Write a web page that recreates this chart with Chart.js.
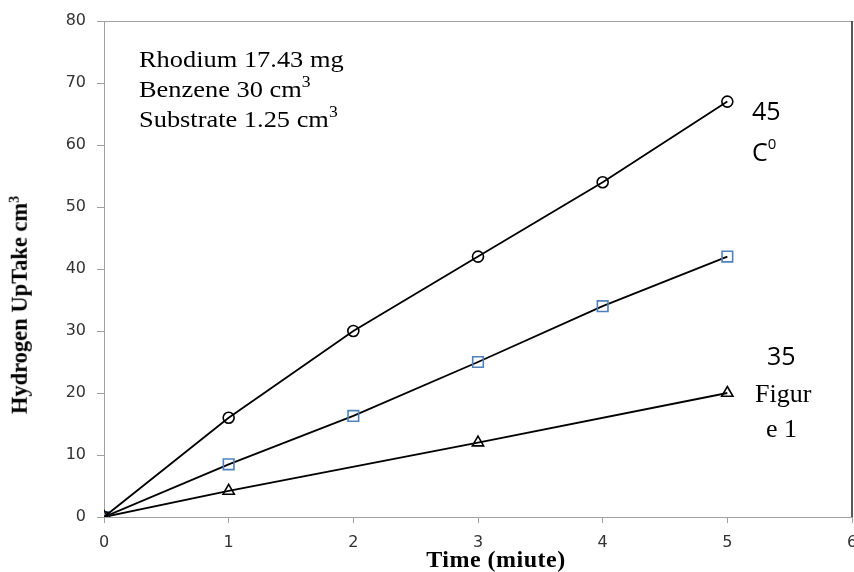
<!DOCTYPE html>
<html>
<head>
<meta charset="utf-8">
<script src="https://cdn.jsdelivr.net/npm/chart.js@4/dist/chart.umd.min.js"></script>
<style>
  html, body { margin: 0; padding: 0; background: #fff; overflow: hidden; }
  #wrap { position: relative; width: 854px; height: 572px; overflow: hidden; }
  #c { position: absolute; left: 0; top: 0; }
  .t { position: absolute; white-space: nowrap; line-height: 1; color: #000; }
  .serif { font-family: "Liberation Serif", "Times New Roman", serif; }
  .sans { font-family: "Open Sans", "Liberation Sans", sans-serif; }
  .sup16 { font-size: 16px; vertical-align: 10px; line-height: 0; }
</style>
</head>
<body>
<div id="wrap">
  <canvas id="c" width="854" height="572"></canvas>

  <div class="t serif" style="left:139px; top:44px; font-size:24px; line-height:30px; transform:scaleX(1.1); transform-origin:0 0;">
    Rhodium 17.43 mg<br>
    Benzene 30 cm<span class="sup16">3</span><br>
    Substrate 1.25 cm<span class="sup16">3</span>
  </div>

  <div class="t sans" style="left:752px; top:98px; font-size:25px;">45</div>
  <div class="t sans" style="left:752px; top:138.5px; font-size:25px;">C<span style="font-size:15px; vertical-align:12px; line-height:0;">0</span></div>
  <div class="t sans" style="left:767px; top:343px; font-size:25px;">35</div>
  <div class="t serif" style="left:755px; top:381px; font-size:26px;">Figur</div>
  <div class="t serif" style="left:766px; top:415.5px; font-size:26px;">e 1</div>

  <div class="t serif" style="left:496px; top:547px; font-size:24px; font-weight:bold; letter-spacing:0.5px; transform:translateX(-50%);">Time (miute)</div>
  <div class="t serif" style="left:19.5px; top:305px; font-size:22.5px; font-weight:bold; transform:translate(-50%,-50%) rotate(-90deg);">Hydrogen UpTake cm<span style="font-size:14px; vertical-align:8px; line-height:0;">3</span></div>
</div>

<script>
// ---- data ----
const timeMin = [0, 1, 2, 3, 4, 5];
const uptake45 = [0, 16, 30, 42, 54, 67];
const uptake40 = [0, 8.5, 16.3, 25, 34, 42];
const timeTri = [0, 1, 3, 5];
const uptake35 = [0, 4.2, 12, 20];
const xTicks = [0, 1, 2, 3, 4, 5, 6];
const yTicks = [0, 10, 20, 30, 40, 50, 60, 70, 80];

const toPts = (xs, ys) => xs.map((x, i) => ({ x: x, y: ys[i] }));

const framePlugin = {
  id: 'frame',
  afterDraw(chart) {
    const { ctx, chartArea: a } = chart;
    ctx.save();
    ctx.lineWidth = 1;
    ctx.strokeStyle = '#a0a0a0';
    ctx.beginPath();
    ctx.moveTo(a.left, Math.round(a.top) + 0.5);
    ctx.lineTo(a.right, Math.round(a.top) + 0.5);
    ctx.stroke();
    ctx.strokeStyle = '#222';
    ctx.lineWidth = 1.5;
    ctx.beginPath();
    ctx.moveTo(a.right, a.top);
    ctx.lineTo(a.right, a.bottom);
    ctx.stroke();
    ctx.restore();
  }
};

const tickFont = { family: 'DejaVu Sans', size: 16 };

new Chart(document.getElementById('c'), {
  type: 'line',
  data: {
    datasets: [
      {
        label: '45 C°',
        data: toPts(timeMin, uptake45),
        borderColor: '#000', borderWidth: 1.8,
        pointStyle: 'circle', pointRadius: 5.5,
        pointBorderColor: '#000', pointBackgroundColor: 'rgba(0,0,0,0)', pointBorderWidth: 1.6,
        tension: 0
      },
      {
        label: '40 C°',
        data: toPts(timeMin, uptake40),
        borderColor: '#000', borderWidth: 1.8,
        pointStyle: 'rect', pointRadius: 7.5,
        pointBorderColor: '#4f81bd', pointBackgroundColor: 'rgba(0,0,0,0)', pointBorderWidth: 1.6,
        tension: 0
      },
      {
        label: '35 C°',
        data: toPts(timeTri, uptake35),
        borderColor: '#000', borderWidth: 1.8,
        pointStyle: 'triangle', pointRadius: 6.5,
        pointBorderColor: '#000', pointBackgroundColor: 'rgba(0,0,0,0)', pointBorderWidth: 1.6,
        tension: 0
      }
    ]
  },
  options: {
    responsive: false,
    animation: false,
    devicePixelRatio: 1,
    layout: { autoPadding: false, padding: { top: 21, right: 2, left: 0, bottom: 0 } },
    plugins: { legend: { display: false }, tooltip: { enabled: false } },
    scales: {
      x: {
        type: 'linear',
        min: xTicks[0], max: xTicks[xTicks.length - 1],
        afterBuildTicks(s) { s.ticks = xTicks.map(v => ({ value: v })); },
        ticks: { font: tickFont, color: '#333', padding: 10, maxRotation: 0, autoSkip: false },
        grid: { drawOnChartArea: false, drawTicks: true, tickLength: 6, color: '#a0a0a0' },
        border: { color: '#a0a0a0', width: 1 },
        afterFit(s) { s.height = 55; s.paddingLeft = 0; s.paddingRight = 0; }
      },
      y: {
        type: 'linear',
        min: yTicks[0], max: yTicks[yTicks.length - 1],
        afterBuildTicks(s) { s.ticks = yTicks.map(v => ({ value: v })); },
        ticks: { font: tickFont, color: '#333', padding: 11, autoSkip: false },
        grid: { drawOnChartArea: false, drawTicks: true, tickLength: 7, color: '#a0a0a0' },
        border: { color: '#a0a0a0', width: 1 },
        afterFit(s) { s.width = 104; s.paddingTop = 0; s.paddingBottom = 0; }
      }
    }
  },
  plugins: [framePlugin]
});
</script>
</body>
</html>
